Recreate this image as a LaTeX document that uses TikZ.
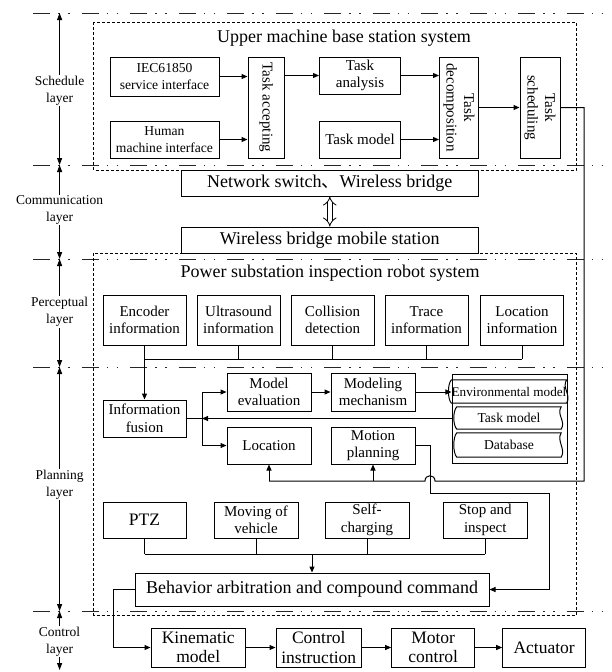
\documentclass[tikz,border=0pt]{standalone}
\usepackage{fontspec}
\setmainfont{Liberation Serif}
\newfontfamily\cjkfont{Noto Sans CJK SC}
\usetikzlibrary{arrows.meta,calc}
\newcommand\szS{\fontsize{13.6}{16.5}\selectfont}
\newcommand\szN{\fontsize{15}{17.5}\selectfont}
\newcommand\szB{\fontsize{18}{21}\selectfont}
\newcommand\szC{\fontsize{17.5}{19.5}\selectfont}
\newcommand\szL{\fontsize{13.5}{17}\selectfont}
\newcommand\szT{\fontsize{13.2}{15}\selectfont}
\newcommand\tapeshape[1]{%
  \draw[line width=1pt] (#1.north west) -- (#1.north east)
    .. controls ($(#1.north east)+(-5,8)$) and ($(#1.south east)+(5,-8)$) .. (#1.south east)
    -- (#1.south west)
    .. controls ($(#1.south west)+(-4,-4)$) and ($(#1.north west)+(-4,4)$) .. cycle;}
\begin{document}
\begin{tikzpicture}[x=1pt,y=-1pt,
  bx/.style={draw, line width=1pt, align=center, inner sep=0pt},
  conn/.style={line width=1pt},
  arr/.style={line width=1pt, -{Triangle[length=6pt,width=5pt]}},
  sidearr/.style={line width=1pt, {Triangle[length=7pt,width=5pt]}-{Triangle[length=7pt,width=5pt]}},
  layerline/.style={line width=1pt, black!85, dash pattern=on 17pt off 8pt on 1.5pt off 8.5pt on 1.5pt off 12pt},
  sysbox/.style={line width=1pt, dash pattern=on 3pt off 2pt},
  lbl/.style={fill=white, align=center, inner sep=1pt, font=\szL},
  rtext/.style={rotate=-90, align=center, font=\szN, inner sep=0pt},
]
\useasboundingbox (0,0) rectangle (611,672);

% layer lines
\draw[layerline] (33,13) -- (611,13);
\draw[layerline] (33,165) -- (611,165);
\draw[layerline] (33,259) -- (611,259);
\draw[layerline] (33,367) -- (611,367);
\draw[layerline] (33,611) -- (611,611);

% side arrows and labels
\draw[sidearr] (59.6,13) -- (59.6,165);
\node[lbl] (lsch) at (59.6,90.5) {Schedule\\layer};
\draw[sidearr] (59.6,165) -- (59.6,259);
\node[lbl] (lcom) at (59.6,210) {Communication\\layer};
\draw[sidearr] (59.6,259) -- (59.6,367);
\node[lbl] (lper) at (59.6,312) {Perceptual\\layer};
\draw[sidearr] (59.6,367) -- (59.6,611);
\node[lbl] (lpla) at (59.6,484.5) {Planning\\layer};
\draw[sidearr] (59.6,611) -- (59.6,670);
\node[lbl] (lcon) at (59.6,641.5) {Control\\layer};

% system boxes
\draw[sysbox] (93.5,22) rectangle (576,170);
\draw[sysbox] (93.5,253) rectangle (576,615);
\node[font=\szB] (t1) at (344,38) {Upper machine base station system};
\node[font=\szB] (t2) at (330,273) {Power substation inspection robot system};

% schedule layer
\node[bx, font=\szS, minimum width=109pt, minimum height=39pt] (iec) at (164.5,76.5) {IEC61850\\service interface};
\node[bx, font=\szS, minimum width=109pt, minimum height=37pt] (hmi) at (164.5,139.5) {Human\\machine interface};
\node[bx, minimum width=36.5pt, minimum height=101pt] (tacc) at (266.25,107.5) {};
\node[rtext] (tacct) at (tacc.center) {Task accepting};
\node[bx, font=\szN, minimum width=81pt, minimum height=37pt] (tana) at (360,75.5) {Task\\analysis};
\node[bx, font=\szN, minimum width=81pt, minimum height=37pt] (tmod) at (360,139.5) {Task model};
\node[bx, minimum width=39pt, minimum height=101pt] (tdec) at (459,107.5) {};
\node[rtext] (tdect) at (tdec.center) {Task\\decomposition};
\node[bx, minimum width=40pt, minimum height=101pt] (tsch) at (540,107.5) {};
\node[rtext] (tscht) at (tsch.center) {Task\\scheduling};

\draw[arr] (iec.east) -- (iec.east -| tacc.west);
\draw[arr] (hmi.east) -- (hmi.east -| tacc.west);
\draw[arr] (tacc.east |- tana.west) -- (tana.west);
\draw[arr] (tana.east) -- (tana.east -| tdec.west);
\draw[arr] (tmod.east) -- (tmod.east -| tdec.west);
\draw[arr] (tdec.east) -- (tsch.west);

% communication layer
\node[bx, font=\szB, minimum width=297.6pt, minimum height=26pt] (nsw) at (329.8,183) {Network switch{\cjkfont 、}Wireless bridge};
\node[bx, font=\szB, minimum width=297.6pt, minimum height=26pt] (wbm) at (329.8,240) {Wireless bridge mobile station};
\draw[double, double distance=4pt, line width=0.8pt, {Implies}-{Implies}] (nsw.south) -- (wbm.north);

% perceptual layer
\node[bx, font=\szN, minimum width=83pt, minimum height=50pt] (enc) at (144.5,320) {Encoder\\information};
\node[bx, font=\szN, minimum width=83pt, minimum height=50pt] (ult) at (238.5,320) {Ultrasound\\information};
\node[bx, font=\szN, minimum width=83pt, minimum height=50pt] (col) at (332.5,320) {Collision\\detection};
\node[bx, font=\szN, minimum width=83pt, minimum height=50pt] (trc) at (426.5,320) {Trace\\information};
\node[bx, font=\szN, minimum width=83pt, minimum height=50pt] (loc) at (522,320) {Location\\information};
\coordinate (pb) at (0,359);
\foreach \n in {enc,ult,col,trc,loc} \draw[conn] (\n.south) -- (\n.south |- pb);
\draw[conn] (enc.south |- pb) -- (loc.south |- pb);

% planning layer
\node[bx, font=\szN, minimum width=83pt, minimum height=37pt] (fus) at (144.5,418.5) {Information\\fusion};
\node[bx, font=\szN, minimum width=84pt, minimum height=38pt] (mev) at (269,392) {Model\\evaluation};
\node[bx, font=\szN, minimum width=84pt, minimum height=38pt] (mmech) at (373,392) {Modeling\\mechanism};
\node[bx, font=\szN, minimum width=84pt, minimum height=37pt] (locn) at (269,445.5) {Location};
\node[bx, font=\szN, minimum width=84pt, minimum height=37pt] (mplan) at (373,445.5) {Motion\\planning};
\node[bx, minimum width=115pt, minimum height=89pt] (mdb) at (509.5,418.5) {};
\node[font=\szT, minimum width=104pt, minimum height=23pt, inner sep=0pt] (env) at (509,391.5) {Environmental model};
\tapeshape{env}
\node[font=\szS, minimum width=104pt, minimum height=22pt, inner sep=0pt] (tmodel) at (509,418) {Task model};
\tapeshape{tmodel}
\node[font=\szS, minimum width=104pt, minimum height=24pt, inner sep=0pt] (db) at (509,445) {Database};
\tapeshape{db}

\draw[arr] (enc.south |- pb) -- (fus.north);
\coordinate (jn) at (202,418.5);
\draw[conn] (fus.east) -- (jn);
\draw[arr] (mdb.west) -- (jn);
\draw[conn] (jn |- mev.west) -- (jn |- locn.west);
\draw[arr] (jn |- mev.west) -- (mev.west);
\draw[arr] (jn |- locn.west) -- (locn.west);
\draw[arr] (mev.east) -- (mmech.west);
\draw[arr] (mmech.east) -- (mmech.east -| env.west);

% feedback from task scheduling
\coordinate (r1) at (584,107.5);
\coordinate (r2) at (584,481);
\coordinate (bR) at (435,481);
\coordinate (bL) at (425,481);
\draw[conn] (tsch.east) -- (r1) -- (r2) -- (bR) .. controls (435,474) and (425,474) .. (bL) -- (locn.south |- r2);
\draw[arr] (mplan.south |- r2) -- (mplan.south);
\draw[arr] (locn.south |- r2) -- (locn.south);

% behaviours
\node[bx, font=\szC, minimum width=83pt, minimum height=36pt] (ptz) at (144.5,520) {PTZ};
\node[bx, font=\szN, minimum width=84pt, minimum height=36pt] (mov) at (256,520) {Moving of\\vehicle};
\node[bx, font=\szN, minimum width=84pt, minimum height=36pt] (self) at (367,520) {Self-\\charging};
\node[bx, font=\szN, minimum width=83.5pt, minimum height=36pt] (stop) at (485.25,520) {Stop and\\inspect};
\node[bx, font=\szB, minimum width=354pt, minimum height=33pt] (behav) at (312,589.5) {Behavior arbitration and compound command};
\coordinate (ab) at (0,554);
\foreach \n in {ptz,mov,self,stop} \draw[conn] (\n.south) -- (\n.south |- ab);
\draw[conn] (ptz.south |- ab) -- (stop.south |- ab);
\draw[arr] (behav.north |- ab) -- (behav.north);

% motion planning to behaviour
\coordinate (m1) at (430,445.5);
\coordinate (m2) at (430,493);
\coordinate (m3) at (549,493);
\draw[arr] (mplan.east) -- (m1) -- (m2) -- (m3) -- (m3 |- behav.east) -- (behav.east);

% control layer
\node[bx, font=\szC, minimum width=94.5pt, minimum height=39pt] (kin) at (198.25,647.5) {Kinematic\\model};
\node[bx, font=\szC, minimum width=85.6pt, minimum height=39pt] (ctl) at (318.8,647.5) {Control\\instruction};
\node[bx, font=\szC, minimum width=83pt, minimum height=39pt] (mot) at (433.15,647.5) {Motor\\control};
\node[bx, font=\szC, minimum width=83pt, minimum height=39pt] (act) at (544.2,647.5) {Actuator};
\coordinate (b1) at (113,589.5);
\coordinate (b2) at (113,647.5);
\draw[arr] (behav.west) -- (b1) -- (b2) -- (kin.west);
\draw[arr] (kin.east) -- (ctl.west);
\draw[arr] (ctl.east) -- (mot.west);
\draw[arr] (mot.east) -- (act.west);
\end{tikzpicture}
\end{document}
